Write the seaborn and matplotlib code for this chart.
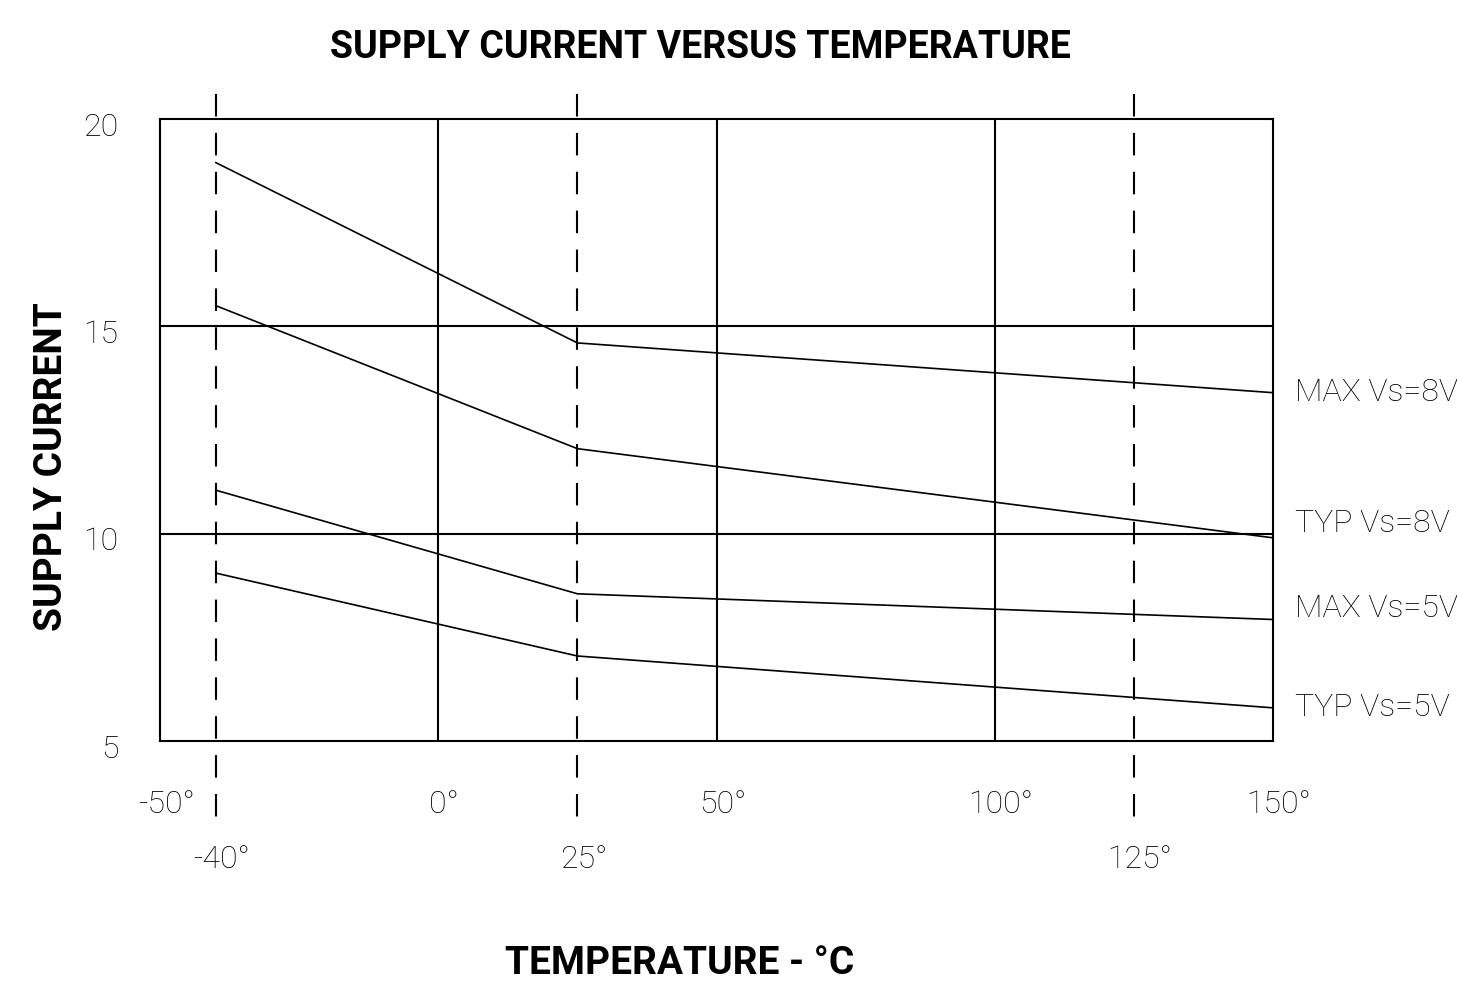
import matplotlib
matplotlib.use("Agg")
import matplotlib.pyplot as plt
import matplotlib.transforms as mtransforms
import seaborn as sns
import pandas as pd

# ---- data ----
temps = [-40, 25, 150]
max_vs8 = [18.95, 14.6, 13.4]
typ_vs8 = [15.5, 12.05, 9.9]
max_vs5 = [11.05, 8.55, 7.93]
typ_vs5 = [9.05, 7.05, 5.8]
series_names = ["MAX Vs=8V", "TYP Vs=8V", "MAX Vs=5V", "TYP Vs=5V"]
major_ticks = [-50, 0, 50, 100, 150]
major_labels = ["-50°", "0°", "50°", "100°", "150°"]
minor_ticks = [-40, 25, 125]
minor_labels = ["-40°", "25°", "125°"]
y_ticks = [5, 10, 15, 20]
y_labels = ["5", "10", "15", "20"]

sns.set_style("white")
plt.rcParams["font.family"] = ["Roboto", "DejaVu Sans"]
plt.rcParams["lines.scale_dashes"] = False
plt.rcParams["text.color"] = "black"
plt.rcParams["axes.labelcolor"] = "black"
plt.rcParams["xtick.color"] = "black"
plt.rcParams["ytick.color"] = "black"

df = pd.concat([
    pd.DataFrame({"temp": temps, "current": vals, "series": name})
    for name, vals in zip(series_names, [max_vs8, typ_vs8, max_vs5, typ_vs5])
])

fig = plt.figure(figsize=(14.57, 9.86), dpi=100)
ax = fig.add_axes([160/1457, 1-741/986, (1273-160)/1457, (741-119)/986])

sns.lineplot(data=df, x="temp", y="current", units="series", estimator=None,
             color="black", linewidth=1.2, ax=ax, legend=False)

ax.set_xlim(-50, 150)
ax.set_ylim(5, 20)

# grid
for xv in [0, 50, 100]:
    ax.axvline(xv, color="black", lw=1.5, zorder=1)
for yv in [10, 15]:
    ax.axhline(yv, color="black", lw=1.5, zorder=1)
for xv in minor_ticks:
    ax.plot([xv, xv], [20.6, 3.17], color="black", lw=1.5, dashes=(16.2, 11.8),
            clip_on=False, zorder=1)

for s in ax.spines.values():
    s.set_linewidth(1.5)
    s.set_color("black")

ax.set_xticks(major_ticks)
ax.set_xticklabels(major_labels, fontsize=23, fontweight="light")
ax.set_xticks(minor_ticks, minor=True)
ax.set_xticklabels(minor_labels, minor=True, fontsize=23, fontweight="light")
ax.tick_params(axis="x", which="major", direction="out", length=15, width=1.5,
               pad=20, color="black")
ax.tick_params(axis="x", which="minor", length=0, pad=75)
ax.set_yticks(y_ticks)
ax.set_yticklabels(y_labels, fontsize=23, fontweight="light")
ax.tick_params(axis="y", length=0, pad=30)
shift = mtransforms.ScaledTranslation(0, -5/100, fig.dpi_scale_trans)
for lab in ax.get_yticklabels():
    lab.set_transform(lab.get_transform() + shift)
shiftx = mtransforms.ScaledTranslation(6/100, 0, fig.dpi_scale_trans)
for lab in ax.get_xticklabels() + ax.get_xticklabels(minor=True):
    lab.set_transform(lab.get_transform() + shiftx)

ax.set_xlabel("TEMPERATURE - °C", fontsize=28, fontweight="bold")
ax.xaxis.label.set_va("center")
ax.xaxis.set_label_coords((680-160)/1113, (741-963)/622)
ax.set_ylabel("SUPPLY CURRENT", fontsize=28, fontweight="bold")
ax.yaxis.label.set_va("center")
ax.yaxis.set_label_coords((52-160)/1113, (741-467)/622)
fig.suptitle("SUPPLY CURRENT VERSUS TEMPERATURE", fontsize=27, fontweight="bold",
             x=700/1457, y=1-48/986, va="center")

# right-side labels
offsets = [0, 10, 8, 0]
for name, vals, off in zip(series_names, [max_vs8, typ_vs8, max_vs5, typ_vs5], offsets):
    ax.annotate(name, xy=(temps[-1], vals[-1]), xytext=(16, off),
                textcoords="offset points", ha="left", va="center",
                fontsize=23, fontweight="light", annotation_clip=False)

fig.savefig("out.png", dpi=100)
